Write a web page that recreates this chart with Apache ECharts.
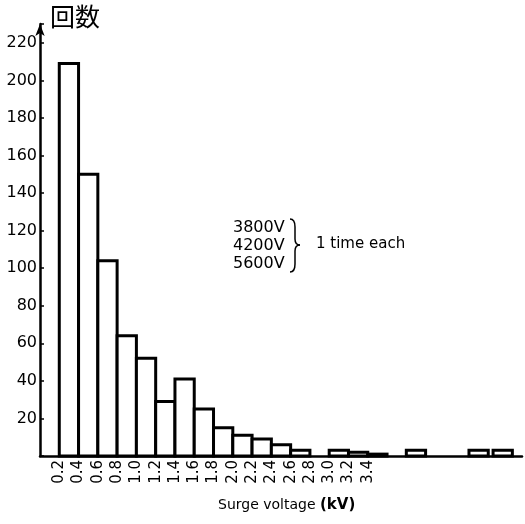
<!DOCTYPE html>
<html>
<head>
<meta charset="utf-8">
<script src="https://cdn.jsdelivr.net/npm/echarts@6/dist/echarts.min.js"></script>
<style>html,body{margin:0;padding:0;background:#fff}#c{width:525px;height:524px}</style>
</head>
<body>
<div id="c"></div>
<script>
// bins: lower edge (kV), upper edge (kV), count
var binStart = [0.2, 0.4, 0.6, 0.8, 1.0, 1.2, 1.4, 1.6, 1.8, 2.0, 2.2, 2.4, 2.6, 3.0, 3.2, 3.4, 3.8, 4.45, 4.7];
var binEnd   = [0.4, 0.6, 0.8, 1.0, 1.2, 1.4, 1.6, 1.8, 2.0, 2.2, 2.4, 2.6, 2.8, 3.2, 3.4, 3.6, 4.0, 4.65, 4.9];
var counts   = [209, 150, 104, 64, 52, 29, 41, 25, 15, 11, 9, 6, 3, 3, 2, 1, 3, 3, 3];
var yTicks = [20, 40, 60, 80, 100, 120, 140, 160, 180, 200, 220];
var xLabelMin = 0.2, xLabelMax = 3.4;
var noteVoltages = ['3800V', '4200V', '5600V'];
var noteText = '1 time each';
var yTitle = '回数';
var xTitle = 'Surge voltage ';
var xUnit = '(kV)';

var data = binStart.map(function (s, i) { return [s, binEnd[i], counts[i]]; });

var braceStyle = { stroke: '#000', lineWidth: 1.5, fill: 'none' };
var FONT = '"DejaVu Sans"';

var chart = echarts.init(document.getElementById('c'));
chart.setOption({
  animation: false,
  backgroundColor: '#fff',
  grid: { left: 40, right: 3, top: 24, bottom: 68, containLabel: false },
  xAxis: {
    type: 'value', min: 0, max: 5.0, interval: 0.2,
    splitLine: { show: false },
    axisTick: { show: false },
    axisLine: { lineStyle: { color: '#000', width: 2.5 } },
    axisLabel: {
      rotate: 90, color: '#000', fontSize: 15, fontFamily: 'DejaVu Sans', margin: 4,
      formatter: function (v) { return (v >= xLabelMin - 0.01 && v <= xLabelMax + 0.01) ? v.toFixed(1) : ''; }
    }
  },
  yAxis: {
    type: 'value', min: 0, max: 230, interval: 20,
    splitLine: { show: false },
    axisTick: { show: true, inside: true, length: 4, lineStyle: { color: '#000', width: 1.5 } },
    axisLine: { show: true, symbol: ['none', 'arrow'], symbolSize: [7, 12], lineStyle: { color: '#000', width: 2.5 } },
    axisLabel: {
      color: '#000', fontSize: 16, fontFamily: 'DejaVu Sans', margin: 3,
      formatter: function (v) { return yTicks.indexOf(v) >= 0 ? String(v) : ''; }
    }
  },
  series: [{
    type: 'custom',
    data: data,
    renderItem: function (params, api) {
      var p0 = api.coord([api.value(0), api.value(2)]);
      var p1 = api.coord([api.value(1), 0]);
      return {
        type: 'rect',
        shape: { x: p0[0], y: p0[1], width: p1[0] - p0[0], height: p1[1] - p0[1] },
        style: { fill: '#fff', stroke: '#000', lineWidth: 3 }
      };
    },
    encode: { x: [0, 1], y: 2 }
  }],
  graphic: [
    { type: 'text', x: 50, y: 4, style: { text: yTitle, font: '25px "Noto Sans CJK JP"', fill: '#000' } },
    { type: 'text', x: 233, y: 219, style: { text: noteVoltages.join('\n'), font: '16px ' + FONT, lineHeight: 18, fill: '#000' } },
    { type: 'bezierCurve', shape: { x1: 290, y1: 219, x2: 295, y2: 227, cpx1: 295, cpy1: 219 }, style: braceStyle },
    { type: 'line', shape: { x1: 295, y1: 227, x2: 295, y2: 239 }, style: braceStyle },
    { type: 'bezierCurve', shape: { x1: 295, y1: 239, x2: 300, y2: 245, cpx1: 295, cpy1: 245 }, style: braceStyle },
    { type: 'bezierCurve', shape: { x1: 300, y1: 245, x2: 295, y2: 251, cpx1: 295, cpy1: 245 }, style: braceStyle },
    { type: 'line', shape: { x1: 295, y1: 251, x2: 295, y2: 264 }, style: braceStyle },
    { type: 'bezierCurve', shape: { x1: 295, y1: 264, x2: 290, y2: 272, cpx1: 295, cpy1: 272 }, style: braceStyle },
    { type: 'text', x: 316, y: 237, style: { text: noteText, font: '15px ' + FONT, fill: '#000' } },
    { type: 'text', x: 218, y: 498, style: {
        text: '{a|' + xTitle + '}{b|' + xUnit + '}',
        rich: { a: { font: '14px ' + FONT, fill: '#000' }, b: { font: 'bold 15px ' + FONT, fill: '#000' } }
      } }
  ]
});
</script>
</body>
</html>
